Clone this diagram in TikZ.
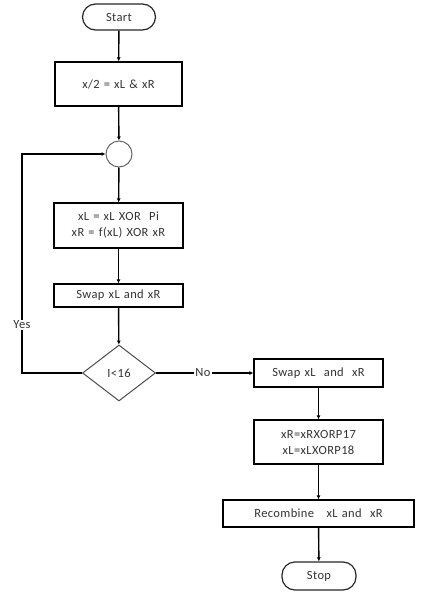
\documentclass[tikz,border=0pt]{standalone}
\usepackage{fontspec}
\setmainfont{Carlito}[LetterSpace=3,WordSpace=1.3]
\usetikzlibrary{shapes.geometric,arrows.meta}
\begin{document}
\begin{tikzpicture}[x=1pt,y=-1pt,
  every node/.style={font=\fontsize{12.5}{16}\selectfont, text=black!80, align=center},
  procbox/.style={draw=black, line width=1.2pt, rectangle, inner sep=0pt},
  termbox/.style={draw=black!85, line width=1.2pt, rectangle, rounded corners=13pt, inner sep=0pt},
  flow/.style={draw=black, line width=1.4pt, -{Latex[length=4pt,width=4pt]}},
  lbl/.style={fill=white, inner sep=1pt}]
\useasboundingbox (0,0) rectangle (421,598);
\node[termbox, minimum width=73pt, minimum height=26pt] (start) at (119,17) {Start};
\node[procbox, minimum width=127pt, minimum height=44pt] (b1) at (118.5,84) {x/2 = xL \& xR};
\node[draw=black!60, line width=1pt, circle, minimum size=26pt, inner sep=0pt] (c) at (119,154) {};
\node[procbox, minimum width=129pt, minimum height=45pt] (b2) at (118.5,225.5) {xL = xL XOR\ \ Pi\\xR = f(xL) XOR xR};
\node[procbox, minimum width=129pt, minimum height=23pt] (b3) at (118.5,295.5) {Swap xL and xR};
\node[draw=black!70, line width=1pt, diamond, aspect=1.35, minimum width=73pt, minimum height=56pt, inner sep=0pt] (d) at (119,373) {I<16};
\node[procbox, minimum width=129pt, minimum height=28pt] (b4) at (318.5,373) {Swap xL\ \ and\ \ xR};
\node[procbox, minimum width=129pt, minimum height=44pt] (b5) at (318.5,442) {xR=xRXORP17\\xL=xLXORP18};
\node[procbox, minimum width=191pt, minimum height=27pt] (b6) at (318.5,513.5) {Recombine\ \ \ xL and\ \ xR};
\node[termbox, minimum width=74pt, minimum height=28pt] (stop) at (319,576) {Stop};
\coordinate (lb) at (22,373);
\coordinate (lt) at (22,154);
\draw[flow] (start) -- (b1);
\draw[flow] (b1) -- (c);
\draw[flow] (c) -- (b2);
\draw[flow] (b2) -- (b3);
\draw[flow] (b3) -- (d);
\draw[flow] (d.west) -- (lb) -- (lt) -- (c.west);
\draw[flow] (d.east) -- (b4.west);
\draw[flow] (b4) -- (b5);
\draw[flow] (b5) -- (b6);
\draw[flow] (b6) -- (stop);
\node[lbl] (yes) at (22,325) {Yes};
\node[lbl] (no) at (203,373) {No};
\end{tikzpicture}
\end{document}
